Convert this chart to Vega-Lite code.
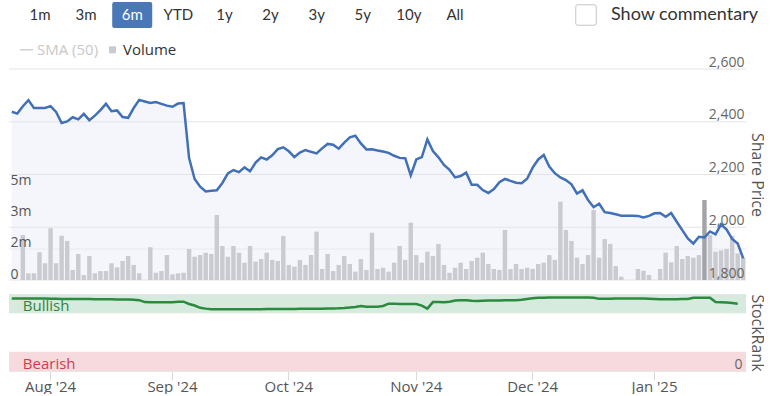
{
  "$schema": "https://vega.github.io/schema/vega-lite/v6.json",
  "padding": {"left": 6, "top": 0, "right": 0, "bottom": 0},
  "autosize": {"type": "pad"},
  "background": "white",
  "bounds": "flush",
  "spacing": 39,
  "config": {
    "view": {"stroke": null},
    "font": "Open Sans",
    "axis": {"labelFont": "Open Sans", "titleFont": "Open Sans"},
    "legend": {"labelFont": "Open Sans"}
  },
  "datasets": {
    "buttons": [
      {"label": "1m"}, {"label": "3m"}, {"label": "6m"}, {"label": "YTD"}, {"label": "1y"},
      {"label": "2y"}, {"label": "3y"}, {"label": "5y"}, {"label": "10y"}, {"label": "All"}
    ],
    "commentary": [{"item": "box"}, {"item": "Show commentary"}],
    "bands": [
      {"zone": "Bullish", "lo": 75, "hi": 100},
      {"zone": "Bearish", "lo": 0, "hi": 25}
    ],
    "grid": [{"g": 1800}, {"g": 2000}, {"g": 2200}, {"g": 2400}, {"g": 2600}],
    "d": [
      {"date":"2024-07-23","price":2438,"volume":0,"rank":94},
      {"date":"2024-07-24","price":2431,"volume":0,"rank":94},
      {"date":"2024-07-25","price":2459,"volume":2420000,"rank":94},
      {"date":"2024-07-26","price":2482,"volume":360000,"rank":94},
      {"date":"2024-07-29","price":2452,"volume":360000,"rank":94},
      {"date":"2024-07-30","price":2452,"volume":1490000,"rank":94},
      {"date":"2024-07-31","price":2452,"volume":900000,"rank":94},
      {"date":"2024-08-01","price":2459,"volume":2780000,"rank":93.8},
      {"date":"2024-08-02","price":2437,"volume":900000,"rank":93.8},
      {"date":"2024-08-05","price":2395,"volume":2380000,"rank":93.6},
      {"date":"2024-08-06","price":2401,"volume":2100000,"rank":93.6},
      {"date":"2024-08-07","price":2417,"volume":540000,"rank":93.5},
      {"date":"2024-08-08","price":2409,"volume":1400000,"rank":93.5},
      {"date":"2024-08-09","price":2430,"volume":270000,"rank":93.4},
      {"date":"2024-08-12","price":2406,"volume":1290000,"rank":93.4},
      {"date":"2024-08-13","price":2423,"volume":360000,"rank":93.3},
      {"date":"2024-08-14","price":2444,"volume":480000,"rank":93.3},
      {"date":"2024-08-15","price":2468,"volume":480000,"rank":93.2},
      {"date":"2024-08-16","price":2440,"volume":900000,"rank":93.2},
      {"date":"2024-08-19","price":2443,"volume":680000,"rank":93},
      {"date":"2024-08-20","price":2418,"volume":1020000,"rank":93},
      {"date":"2024-08-21","price":2415,"volume":1290000,"rank":92.8},
      {"date":"2024-08-22","price":2452,"volume":810000,"rank":92.6},
      {"date":"2024-08-23","price":2483,"volume":360000,"rank":92},
      {"date":"2024-08-26","price":2477,"volume":0,"rank":89.5},
      {"date":"2024-08-27","price":2471,"volume":1760000,"rank":89.2},
      {"date":"2024-08-28","price":2475,"volume":390000,"rank":89.2},
      {"date":"2024-08-29","price":2468,"volume":480000,"rank":89.2},
      {"date":"2024-08-30","price":2461,"volume":1340000,"rank":89.2},
      {"date":"2024-09-02","price":2457,"volume":300000,"rank":89.2},
      {"date":"2024-09-03","price":2469,"volume":360000,"rank":89.8},
      {"date":"2024-09-04","price":2471,"volume":390000,"rank":90},
      {"date":"2024-09-05","price":2262,"volume":1670000,"rank":87},
      {"date":"2024-09-06","price":2183,"volume":1250000,"rank":85},
      {"date":"2024-09-09","price":2154,"volume":1340000,"rank":82},
      {"date":"2024-09-10","price":2136,"volume":1470000,"rank":81},
      {"date":"2024-09-11","price":2138,"volume":1400000,"rank":80.3},
      {"date":"2024-09-12","price":2140,"volume":3490000,"rank":80.3},
      {"date":"2024-09-13","price":2168,"volume":1830000,"rank":80.2},
      {"date":"2024-09-16","price":2204,"volume":1250000,"rank":80.2},
      {"date":"2024-09-17","price":2217,"volume":1830000,"rank":80.2},
      {"date":"2024-09-18","price":2209,"volume":1470000,"rank":80.1},
      {"date":"2024-09-19","price":2227,"volume":930000,"rank":80.1},
      {"date":"2024-09-20","price":2212,"volume":1830000,"rank":80.1},
      {"date":"2024-09-23","price":2245,"volume":990000,"rank":80.2},
      {"date":"2024-09-24","price":2265,"volume":1130000,"rank":80.3},
      {"date":"2024-09-25","price":2257,"volume":1470000,"rank":80.4},
      {"date":"2024-09-26","price":2273,"volume":1080000,"rank":80.4},
      {"date":"2024-09-27","price":2296,"volume":1020000,"rank":80.5},
      {"date":"2024-09-30","price":2303,"volume":2370000,"rank":80.5},
      {"date":"2024-10-01","price":2288,"volume":810000,"rank":80.5},
      {"date":"2024-10-02","price":2266,"volume":720000,"rank":80.6},
      {"date":"2024-10-03","price":2283,"volume":1080000,"rank":80.7},
      {"date":"2024-10-04","price":2293,"volume":810000,"rank":80.8},
      {"date":"2024-10-07","price":2286,"volume":1340000,"rank":80.9},
      {"date":"2024-10-08","price":2280,"volume":2600000,"rank":81},
      {"date":"2024-10-09","price":2299,"volume":590000,"rank":81},
      {"date":"2024-10-10","price":2316,"volume":1400000,"rank":81.2},
      {"date":"2024-10-11","price":2313,"volume":480000,"rank":81.3},
      {"date":"2024-10-14","price":2298,"volume":810000,"rank":81.4},
      {"date":"2024-10-15","price":2321,"volume":1290000,"rank":81.8},
      {"date":"2024-10-16","price":2341,"volume":860000,"rank":82.5},
      {"date":"2024-10-17","price":2347,"volume":450000,"rank":83},
      {"date":"2024-10-18","price":2318,"volume":1130000,"rank":84.5},
      {"date":"2024-10-21","price":2295,"volume":540000,"rank":83.5},
      {"date":"2024-10-22","price":2296,"volume":2540000,"rank":83.5},
      {"date":"2024-10-23","price":2291,"volume":590000,"rank":83.5},
      {"date":"2024-10-24","price":2287,"volume":660000,"rank":84.5},
      {"date":"2024-10-25","price":2282,"volume":450000,"rank":87.5},
      {"date":"2024-10-28","price":2271,"volume":930000,"rank":87.5},
      {"date":"2024-10-29","price":2263,"volume":1830000,"rank":87},
      {"date":"2024-10-30","price":2262,"volume":1080000,"rank":87},
      {"date":"2024-10-31","price":2197,"volume":3080000,"rank":87},
      {"date":"2024-11-01","price":2257,"volume":1340000,"rank":87},
      {"date":"2024-11-04","price":2266,"volume":930000,"rank":85},
      {"date":"2024-11-05","price":2333,"volume":1520000,"rank":81},
      {"date":"2024-11-06","price":2289,"volume":1290000,"rank":89.5},
      {"date":"2024-11-07","price":2265,"volume":1940000,"rank":89.5},
      {"date":"2024-11-08","price":2236,"volume":810000,"rank":89.3},
      {"date":"2024-11-11","price":2218,"volume":390000,"rank":90},
      {"date":"2024-11-12","price":2189,"volume":660000,"rank":91.5},
      {"date":"2024-11-13","price":2194,"volume":930000,"rank":92},
      {"date":"2024-11-14","price":2207,"volume":590000,"rank":92},
      {"date":"2024-11-15","price":2161,"volume":1020000,"rank":91.3},
      {"date":"2024-11-18","price":2161,"volume":1200000,"rank":91},
      {"date":"2024-11-19","price":2141,"volume":1470000,"rank":91.3},
      {"date":"2024-11-20","price":2130,"volume":860000,"rank":91.5},
      {"date":"2024-11-21","price":2145,"volume":590000,"rank":91.6},
      {"date":"2024-11-22","price":2171,"volume":540000,"rank":91.7},
      {"date":"2024-11-25","price":2183,"volume":2690000,"rank":91.8},
      {"date":"2024-11-26","price":2176,"volume":590000,"rank":91.9},
      {"date":"2024-11-27","price":2169,"volume":860000,"rank":92},
      {"date":"2024-11-28","price":2167,"volume":590000,"rank":92.4},
      {"date":"2024-11-29","price":2184,"volume":660000,"rank":93.5},
      {"date":"2024-12-02","price":2226,"volume":590000,"rank":94.5},
      {"date":"2024-12-03","price":2257,"volume":860000,"rank":95},
      {"date":"2024-12-04","price":2274,"volume":930000,"rank":95.2},
      {"date":"2024-12-05","price":2230,"volume":1340000,"rank":95.4},
      {"date":"2024-12-06","price":2205,"volume":1080000,"rank":95.5},
      {"date":"2024-12-09","price":2189,"volume":4210000,"rank":95.6},
      {"date":"2024-12-10","price":2179,"volume":2690000,"rank":95.6},
      {"date":"2024-12-11","price":2163,"volume":2100000,"rank":95.6},
      {"date":"2024-12-12","price":2128,"volume":1200000,"rank":95.5},
      {"date":"2024-12-13","price":2140,"volume":860000,"rank":95.5},
      {"date":"2024-12-16","price":2103,"volume":1340000,"rank":95.4},
      {"date":"2024-12-17","price":2076,"volume":3760000,"rank":95.2},
      {"date":"2024-12-18","price":2089,"volume":1200000,"rank":93.7},
      {"date":"2024-12-19","price":2057,"volume":2200000,"rank":93.8},
      {"date":"2024-12-20","price":2054,"volume":1940000,"rank":93.9},
      {"date":"2024-12-23","price":2049,"volume":750000,"rank":94},
      {"date":"2024-12-24","price":2044,"volume":180000,"rank":94.1},
      {"date":"2024-12-25","price":2044,"volume":0,"rank":94.2},
      {"date":"2024-12-26","price":2044,"volume":0,"rank":94.3},
      {"date":"2024-12-27","price":2043,"volume":590000,"rank":94.3},
      {"date":"2024-12-30","price":2037,"volume":500000,"rank":94.1},
      {"date":"2024-12-31","price":2043,"volume":270000,"rank":93.9},
      {"date":"2025-01-01","price":2053,"volume":0,"rank":93.6},
      {"date":"2025-01-02","price":2054,"volume":590000,"rank":93.3},
      {"date":"2025-01-03","price":2040,"volume":1470000,"rank":93.2},
      {"date":"2025-01-06","price":2054,"volume":950000,"rank":93.2},
      {"date":"2025-01-07","price":2021,"volume":1830000,"rank":93.3},
      {"date":"2025-01-08","price":1989,"volume":1130000,"rank":93.4},
      {"date":"2025-01-09","price":1958,"volume":1290000,"rank":93.6},
      {"date":"2025-01-10","price":1938,"volume":1200000,"rank":95},
      {"date":"2025-01-13","price":1964,"volume":1340000,"rank":95.2},
      {"date":"2025-01-14","price":1961,"volume":4300000,"rank":95.2},
      {"date":"2025-01-15","price":1984,"volume":2420000,"rank":95.2},
      {"date":"2025-01-16","price":1973,"volume":1520000,"rank":89.5},
      {"date":"2025-01-17","price":2011,"volume":1590000,"rank":89.2},
      {"date":"2025-01-20","price":1991,"volume":1670000,"rank":89},
      {"date":"2025-01-21","price":1956,"volume":2370000,"rank":88.3},
      {"date":"2025-01-22","price":1938,"volume":1430000,"rank":87.4},
      {"date":"2025-01-23","price":1882,"volume":1200000,"rank":null}
    ]
  },
  "resolve": {"scale": {"x": "independent"}},
  "vconcat": [
    {
      "width": 737,
      "height": 30,
      "layer": [
        {
          "data": {"name": "buttons"},
          "mark": {"type": "point", "shape": "M-0.9,-0.65H0.9Q1,-0.65 1,-0.55V0.55Q1,0.65 0.9,0.65H-0.9Q-1,0.65 -1,0.55V-0.55Q-1,-0.65 -0.9,-0.65Z", "filled": true, "size": 1600, "color": "#4a77b8"},
          "encoding": {
            "x": {"field": "label", "type": "nominal", "scale": {"type": "point", "domain": ["1m","3m","6m","YTD","1y","2y","3y","5y","10y","All"], "range": [31, 446], "padding": 0}, "axis": null},
            "opacity": {"condition": {"test": "datum.label === '6m'", "value": 1}, "value": 0}
          }
        },
        {
          "data": {"name": "buttons"},
          "mark": {"type": "text", "font": "Lato", "fontSize": 15, "baseline": "middle"},
          "encoding": {
            "x": {"field": "label", "type": "nominal", "scale": {"type": "point", "domain": ["1m","3m","6m","YTD","1y","2y","3y","5y","10y","All"], "range": [31, 446], "padding": 0}, "axis": null},
            "text": {"field": "label"},
            "color": {"condition": {"test": "datum.label === '6m'", "value": "#ffffff"}, "value": "#333333"}
          }
        },
        {
          "data": {"name": "commentary"},
          "transform": [{"filter": "datum.item === 'box'"}],
          "mark": {"type": "point", "shape": "M-0.8,-1H0.8Q1,-1 1,-0.8V0.8Q1,1 0.8,1H-0.8Q-1,1 -1,0.8V-0.8Q-1,-1 -0.8,-1Z", "filled": true, "size": 420, "fill": "#ffffff", "stroke": "#c4c4c4", "strokeWidth": 1, "opacity": 1},
          "encoding": {
            "x": {"field": "item", "type": "nominal", "scale": {"type": "point", "domain": ["box", "Show commentary"], "range": [577, 602], "padding": 0}, "axis": null}
          }
        },
        {
          "data": {"name": "commentary"},
          "transform": [{"filter": "datum.item !== 'box'"}],
          "mark": {"type": "text", "font": "Lato", "fontSize": 18, "align": "left", "baseline": "middle", "color": "#333333"},
          "encoding": {
            "x": {"field": "item", "type": "nominal", "scale": {"type": "point", "domain": ["box", "Show commentary"], "range": [577, 602], "padding": 0}, "axis": null},
            "text": {"field": "item"}
          }
        }
      ],
      "resolve": {"scale": {"x": "independent"}}
    },
    {
      "bounds": "flush",
      "spacing": 14,
      "resolve": {"scale": {"x": "shared"}},
      "vconcat": [
        {
          "width": 737,
          "height": 211,
          "data": {"name": "d"},
          "layer": [
            {
              "layer": [
                {
                  "mark": {"type": "area", "color": "#f4f6fb"},
                  "encoding": {
                    "x": {"field": "date", "type": "ordinal", "bandPosition": 0.5, "scale": {"type": "band", "paddingInner": 0.2, "paddingOuter": 0.1}, "axis": null},
                    "y": {"field": "price", "type": "quantitative", "scale": {"domain": [1800, 2600], "nice": false, "zero": false}, "axis": null},
                    "y2": {"datum": 1800}
                  }
                },
                {
                  "data": {"name": "grid"},
                  "mark": {"type": "rule", "color": "#e4e4e4", "strokeWidth": 1},
                  "encoding": {"y": {"field": "g", "type": "quantitative"}}
                }
              ]
            },
            {
              "layer": [
                {
                  "data": {"values": [{"v": 1666667}]},
                  "mark": {"type": "rule", "color": "#e9e9ec", "strokeWidth": 1},
                  "encoding": {"y": {"field": "v", "type": "quantitative"}}
                },
                {
                  "mark": {"type": "bar"},
                  "encoding": {
                    "x": {"field": "date", "type": "ordinal", "scale": {"type": "band", "paddingInner": 0.2, "paddingOuter": 0.1}, "axis": null},
                    "y": {"field": "volume", "type": "quantitative", "scale": {"domain": [0, 11340000], "nice": false},
                      "axis": {"orient": "left", "zindex": 1, "values": [0, 1666667, 3333333, 5000000], "labelExpr": "datum.value == 0 ? '0' : format(datum.value / 1000000, '.0f') + 'm'", "grid": false, "domain": false, "ticks": false, "tickSize": 0, "labelAlign": "left", "labelBaseline": "alphabetic", "labelPadding": -1, "labelOffset": -2, "labelFontSize": 14, "labelColor": "#555555", "title": null}},
                    "color": {
                      "datum": "Volume",
                      "type": "nominal",
                      "condition": {"test": "datum.date === '2025-01-14'", "value": "#a3a4a9"},
                      "scale": {"domain": ["SMA (50)", "Volume"], "range": ["#d0d0d0", "#cacbd0"]},
                      "legend": {
                        "orient": "none", "legendX": 10, "legendY": 42, "direction": "horizontal", "title": null,
                        "labelFontSize": 15, "labelFont": "Open Sans", "symbolSize": 150, "columnPadding": 6, "labelOffset": 3,
                        "encode": {
                          "symbols": {"update": {
                            "shape": {"signal": "datum.label === 'Volume' ? 'square' : 'stroke'"},
                            "stroke": {"signal": "datum.label === 'Volume' ? 'transparent' : '#d0d0d0'"},
                            "fill": {"signal": "datum.label === 'Volume' ? '#a8a9ae' : 'transparent'"},
                            "strokeWidth": {"value": 1.5},
                            "size": {"signal": "datum.label === 'Volume' ? 49 : 169"},
                            "opacity": {"value": 1}
                          }},
                          "labels": {"update": {
                            "fill": {"signal": "datum.label === 'Volume' ? '#333333' : '#c8c8c8'"}
                          }}
                        }
                      }
                    }
                  }
                }
              ]
            },
            {
              "mark": {"type": "line", "color": "#4170b8", "strokeWidth": 2.5},
              "encoding": {
                "x": {"field": "date", "type": "ordinal", "bandPosition": 0.5, "scale": {"type": "band", "paddingInner": 0.2, "paddingOuter": 0.1}, "axis": null},
                "y": {"field": "price", "type": "quantitative", "scale": {"domain": [1800, 2600], "nice": false, "zero": false},
                  "axis": {"orient": "right", "zindex": 1, "values": [1800, 2000, 2200, 2400, 2600], "labelExpr": "format(datum.value, ',')", "title": "Share Price", "grid": false, "domain": false, "ticks": false, "tickSize": 0, "labelAlign": "right", "labelBaseline": "alphabetic", "labelPadding": -2, "labelOffset": -3, "labelFontSize": 14, "labelColor": "#666666", "titleFontSize": 16, "titleFontWeight": "normal", "titleColor": "#555555", "titlePadding": 2}}
              }
            }
          ],
          "resolve": {"scale": {"y": "independent"}, "axis": {"y": "independent"}}
        },
        {
          "width": 737,
          "height": 77,
          "layer": [
            {
              "data": {"name": "bands"},
              "mark": {"type": "rect"},
              "encoding": {
                "y": {"field": "lo", "type": "quantitative", "scale": {"domain": [0, 100], "nice": false},
                  "axis": {"orient": "right", "zindex": 1, "values": [0, 100], "labelExpr": "datum.value == 0 ? '0' : ''", "title": "StockRank", "grid": true, "gridColor": "#e6e6e6", "domain": false, "ticks": false, "tickSize": 0, "labelAlign": "right", "labelBaseline": "alphabetic", "labelPadding": -4, "labelOffset": -3, "labelFontSize": 14, "labelColor": "#666666", "titleFontSize": 16, "titleFontWeight": "normal", "titleColor": "#555555", "titlePadding": 2}},
                "y2": {"field": "hi"},
                "color": {"condition": {"test": "datum.zone === 'Bullish'", "value": "#d6eadd"}, "value": "#f6dadd"}
              }
            },
            {
              "data": {"name": "d"},
              "mark": {"type": "line", "color": "#2b8a3e", "strokeWidth": 2.5},
              "encoding": {
                "x": {"field": "date", "type": "ordinal", "bandPosition": 0.5, "scale": {"type": "band", "paddingInner": 0.2, "paddingOuter": 0.1},
                  "axis": {"values": ["2024-08-01", "2024-09-02", "2024-10-01", "2024-11-01", "2024-12-02", "2025-01-01"], "labelExpr": "utcFormat(toDate(datum.value), \"%b '%y\")", "bandPosition": 0.5, "domain": false, "ticks": true, "tickSize": 9, "tickColor": "#d9d9d9", "labelPadding": -1, "labelFontSize": 15, "labelColor": "#555555", "labelAngle": 0, "title": null, "grid": false}},
                "y": {"field": "rank", "type": "quantitative"}
              }
            },
            {
              "data": {"name": "bands"},
              "mark": {"type": "text", "align": "left", "baseline": "alphabetic", "dy": -2, "fontSize": 15, "font": "Open Sans"},
              "encoding": {
                "x": {"datum": "2024-07-25", "type": "ordinal"},
                "y": {"field": "lo", "type": "quantitative"},
                "text": {"field": "zone"},
                "color": {"condition": {"test": "datum.zone === 'Bullish'", "value": "#2e8540"}, "value": "#d33a4f"}
              }
            }
          ]
        }
      ]
    }
  ]
}
